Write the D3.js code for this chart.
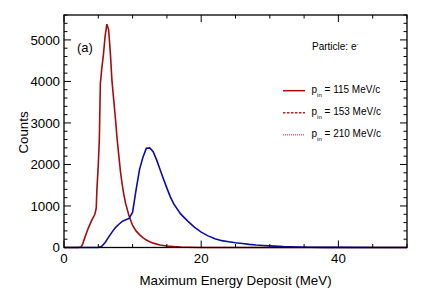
<!DOCTYPE html>
<html>
<head>
<meta charset="utf-8">
<script src="https://cdn.jsdelivr.net/npm/d3@7"></script>
<style>
  body { margin: 0; background: #fff; }
  svg { display: block; font-family: "Liberation Sans", Arial, sans-serif; }
</style>
</head>
<body>
<svg id="chart" width="429" height="292"></svg>
<script>
// e- at p_in = 115 MeV/c: [energy deposit (MeV), counts]
var redSeries = [
  [0, 0], [1, 0], [2, 0], [2.5, 10], [2.75, 100], [3, 220], [3.5, 450], [4, 640],
  [4.5, 800], [4.7, 950], [4.8, 1400], [5, 2000], [5.15, 2600], [5.3, 3950],
  [5.5, 4300], [5.75, 4650], [6, 5100], [6.25, 5380], [6.5, 5250], [6.75, 4700],
  [7, 4000], [7.25, 3550], [7.5, 3100], [7.75, 2600], [8, 2200], [8.25, 1800],
  [8.5, 1500], [8.75, 1250], [9, 1050], [9.5, 750], [10, 530], [10.5, 400],
  [11, 310], [11.5, 240], [12, 180], [12.5, 140], [13, 105], [14, 60], [15, 35],
  [16, 20], [17, 10], [18, 5], [20, 0], [50, 0]
];
var blueSeries = [
  [0, 0], [5, 0], [5.5, 30], [6, 120], [6.5, 250], [7, 370], [7.5, 480], [8, 560],
  [8.5, 630], [9, 670], [9.5, 700], [10, 850], [10.5, 1380], [11, 1870],
  [11.5, 2170], [12, 2390], [12.5, 2400], [13, 2310], [13.5, 2110], [14, 1880],
  [14.5, 1650], [15, 1430], [15.5, 1220], [16, 1050], [17, 810], [18, 640],
  [19, 490], [20, 370], [21, 280], [22, 210], [23, 165], [24, 140], [25, 115],
  [26, 95], [27, 75], [28, 60], [29, 50], [30, 40], [32, 22], [34, 12], [36, 7],
  [38, 4], [40, 2], [45, 0], [50, 0]
];
var legendMomenta = ["115", "153", "210"];
var xTicks = [0, 20, 40];
var yTicks = [0, 1000, 2000, 3000, 4000, 5000];

var svg = d3.select("#chart");
var margin = { left: 64, right: 22, top: 15, bottom: 44.5 };
var W = 429, H = 292;
var x = d3.scaleLinear().domain([0, 50]).range([margin.left, W - margin.right]);
var y = d3.scaleLinear().domain([0, 5600]).range([H - margin.bottom, margin.top]);

var red = "#a30d0d", blue = "#0d0da3";

// curves
var line = d3.line().x(function(d) { return x(d[0]); }).y(function(d) { return y(d[1]); });
svg.append("path").datum(redSeries).attr("d", line)
  .attr("fill", "none").attr("stroke", red).attr("stroke-width", 1.6);
svg.append("path").datum(blueSeries).attr("d", line)
  .attr("fill", "none").attr("stroke", blue).attr("stroke-width", 1.6);

// frame
svg.append("rect")
  .attr("x", x(0)).attr("y", y(5600))
  .attr("width", x(50) - x(0)).attr("height", y(0) - y(5600))
  .attr("fill", "none").attr("stroke", "#000").attr("stroke-width", 1.3);

// ticks, ROOT style (inside, on all four sides)
var major = 7, minor = 3.5;
var xMinor = d3.range(0, 51, 5);
var yMinor = d3.range(0, 5601, 200);
var tg = svg.append("g").attr("stroke", "#000").attr("stroke-width", 1);
xMinor.forEach(function(v) {
  var len = xTicks.indexOf(v) >= 0 ? major : minor;
  tg.append("line").attr("x1", x(v)).attr("x2", x(v)).attr("y1", y(0)).attr("y2", y(0) - len);
  tg.append("line").attr("x1", x(v)).attr("x2", x(v)).attr("y1", y(5600)).attr("y2", y(5600) + len);
});
yMinor.forEach(function(v) {
  var len = yTicks.indexOf(v) >= 0 ? major : minor;
  tg.append("line").attr("y1", y(v)).attr("y2", y(v)).attr("x1", x(0)).attr("x2", x(0) + len);
  tg.append("line").attr("y1", y(v)).attr("y2", y(v)).attr("x1", x(50)).attr("x2", x(50) - len);
});

// tick labels
svg.append("g").selectAll("text").data(xTicks).enter().append("text")
  .attr("x", function(d) { return x(d); }).attr("y", 263)
  .attr("text-anchor", "middle").attr("font-size", 13.3).text(function(d) { return d; });
svg.append("g").selectAll("text").data(yTicks).enter().append("text")
  .attr("x", 60).attr("y", function(d) { return y(d) + 4.7; })
  .attr("text-anchor", "end").attr("font-size", 13.3).text(function(d) { return d; });

// axis titles
svg.append("text").attr("x", (x(0) + x(50)) / 2).attr("y", 284.5)
  .attr("text-anchor", "middle").attr("font-size", 13.3).text("Maximum Energy Deposit (MeV)");
svg.append("text").attr("transform", "translate(27.5,132.5) rotate(-90)")
  .attr("text-anchor", "middle").attr("font-size", 13.3).text("Counts");

// annotations
svg.append("text").attr("x", 77).attr("y", 52).attr("font-size", 13).text("(a)");
var pt = svg.append("text").attr("x", 312).attr("y", 50).attr("font-size", 10);
pt.append("tspan").text("Particle: e");
pt.append("tspan").attr("dy", -4).attr("font-size", 6).text("-");

// legend
var styles = [
  { dash: null, color: red },
  { dash: "2.5,1.5", color: "#c02020" },
  { dash: "1,1", color: "#d86a6a" }
];
var lg = svg.append("g");
legendMomenta.forEach(function(m, i) {
  var ly = 90.7 + i * 22;
  lg.append("line").attr("x1", 283).attr("x2", 305).attr("y1", ly).attr("y2", ly)
    .attr("stroke", styles[i].color).attr("stroke-width", 1.5)
    .attr("stroke-dasharray", styles[i].dash);
  var t = lg.append("text").attr("x", 311.5).attr("y", ly + 2).attr("font-size", 10);
  t.append("tspan").text("p");
  t.append("tspan").attr("dy", 4.5).attr("font-size", 6).text("in");
  t.append("tspan").attr("dy", -4.5).text(" = " + m + " MeV/c");
});
</script>
</body>
</html>
